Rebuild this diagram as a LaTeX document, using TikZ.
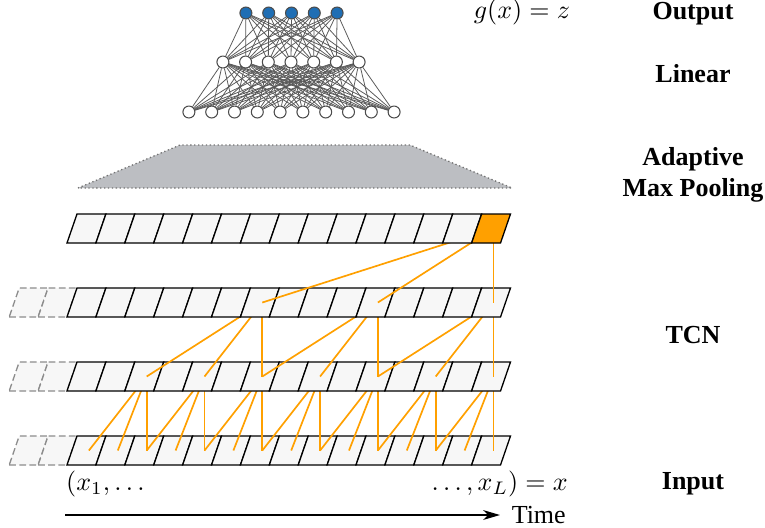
\documentclass[tikz,border=0pt]{standalone}
\usepackage{amsmath, amssymb}
\usepackage{fontspec}
\setmainfont{Liberation Serif}
\usepackage{xcolor}
\usetikzlibrary{positioning, arrows.meta, backgrounds, calc}

\definecolor{tcnorange}{RGB}{255,160,0}
\definecolor{cellgray}{RGB}{247,247,247}
\definecolor{poolgray}{RGB}{188,190,194}
\definecolor{nnblue}{RGB}{31,110,180}

\begin{document}
\begin{tikzpicture}[
    x=0.3846pt, y=-0.3846pt,
    cell/.style={draw=black, line width=0.5pt, fill=cellgray},
    padcell/.style={draw=black!45, dash pattern=on 2.6pt off 1.3pt, line width=0.5pt, fill=cellgray},
    outcell/.style={draw=black, line width=0.5pt, fill=tcnorange},
    link/.style={draw=tcnorange, line width=0.65pt},
    neuron/.style={circle, draw=black!70, line width=0.4pt, fill=white,
        minimum size=4.6pt, inner sep=0pt},
    outneuron/.style={neuron, fill=nnblue},
    weight/.style={draw=black!65, line width=0.3pt},
    layername/.style={font=\bfseries, align=center}
]
\useasboundingbox (0,0) rectangle (765,527);

% cell centres of the four rows
\foreach \r/\yb in {1/243, 2/317, 3/391, 4/465}
  \foreach \k in {1,...,15}
    \coordinate (r\r c\k) at ({88.9+28.9*(\k-1)},{\yb-14.5});

% Input row
\foreach \k in {-1,0}
  \draw[padcell] ({67+28.9*(\k-1)},465) -- ++(28.9,0) -- ++(10,-29) -- ++(-28.9,0) -- cycle;
\foreach \k in {1,...,15}
  \draw[cell] ({67+28.9*(\k-1)},465) -- ++(28.9,0) -- ++(10,-29) -- ++(-28.9,0) -- cycle;

\foreach \t in {3,5,...,15}
  \foreach \d in {0,1,2} {
    \pgfmathtruncatemacro{\s}{\t-\d}
    \draw[link] (r4c\s) -- (r3c\t);
  }

% first hidden row (dilation 1)
\foreach \k in {-1,0}
  \draw[padcell] ({67+28.9*(\k-1)},391) -- ++(28.9,0) -- ++(10,-29) -- ++(-28.9,0) -- cycle;
\foreach \k in {1,...,15}
  \draw[cell] ({67+28.9*(\k-1)},391) -- ++(28.9,0) -- ++(10,-29) -- ++(-28.9,0) -- cycle;

\foreach \t in {7,11,15}
  \foreach \d in {0,2,4} {
    \pgfmathtruncatemacro{\s}{\t-\d}
    \draw[link] (r3c\s) -- (r2c\t);
  }

% second hidden row (dilation 2)
\foreach \k in {-1,0}
  \draw[padcell] ({67+28.9*(\k-1)},317) -- ++(28.9,0) -- ++(10,-29) -- ++(-28.9,0) -- cycle;
\foreach \k in {1,...,15}
  \draw[cell] ({67+28.9*(\k-1)},317) -- ++(28.9,0) -- ++(10,-29) -- ++(-28.9,0) -- cycle;

\foreach \d in {0,4,8} {
  \pgfmathtruncatemacro{\s}{15-\d}
  \draw[link] (r2c\s) -- (r1c15);
}

% TCN output row (dilation 4)
\foreach \k in {1,...,14}
  \draw[cell] ({67+28.9*(\k-1)},243) -- ++(28.9,0) -- ++(10,-29) -- ++(-28.9,0) -- cycle;
\draw[outcell] ({67+28.9*14},243) -- ++(28.9,0) -- ++(10,-29) -- ++(-28.9,0) -- cycle;

% adaptive max pooling
\draw[draw=black!55, densely dotted, line width=0.5pt, fill=poolgray]
  (78,188) -- (180,145) -- (410,145) -- (512,188) -- cycle;

% linear head
\foreach \i in {1,...,10}
  \node[neuron] (in\i) at ({291.5+22.8*(\i-5.5)},112) {};
\foreach \i in {1,...,7}
  \node[neuron] (hid\i) at ({291+22.7*(\i-4)},62) {};
\foreach \i in {1,...,5}
  \node[outneuron] (out\i) at ({291.5+22.8*(\i-3)},13) {};

\begin{scope}[on background layer]
\foreach \i in {1,...,10}
  \foreach \j in {1,...,7}
    \draw[weight] (in\i) -- (hid\j);
\foreach \i in {1,...,7}
  \foreach \j in {1,...,5}
    \draw[weight] (hid\i) -- (out\j);
\end{scope}

% labels
\node[layername] (outLbl) at (693,14) {Output};
\node (gLbl) at (522,12) {$g(x)=z$};
\node[layername] (linLbl) at (693,74) {Linear};
\node[layername] (poolLbl) at (693,175) {Adaptive\\Max Pooling};
\node[layername] (tcnLbl) at (693,335) {TCN};
\node[layername] (inLbl) at (693,484) {Input};

\node[anchor=west] (xFirst) at (57,484) {$(x_1,\dots$};
\node[anchor=east] (xLast) at (577,484) {$\dots,x_L)=x$};

% time axis
\coordinate (tStart) at (65,515);
\coordinate (tEnd) at (500,515);
\draw[line width=0.5pt, -{Stealth[length=6.5pt, width=3.8pt, inset=2pt]}] (tStart) -- (tEnd);
\node[right=1pt of tEnd] (timeLbl) {Time};

\end{tikzpicture}
\end{document}
